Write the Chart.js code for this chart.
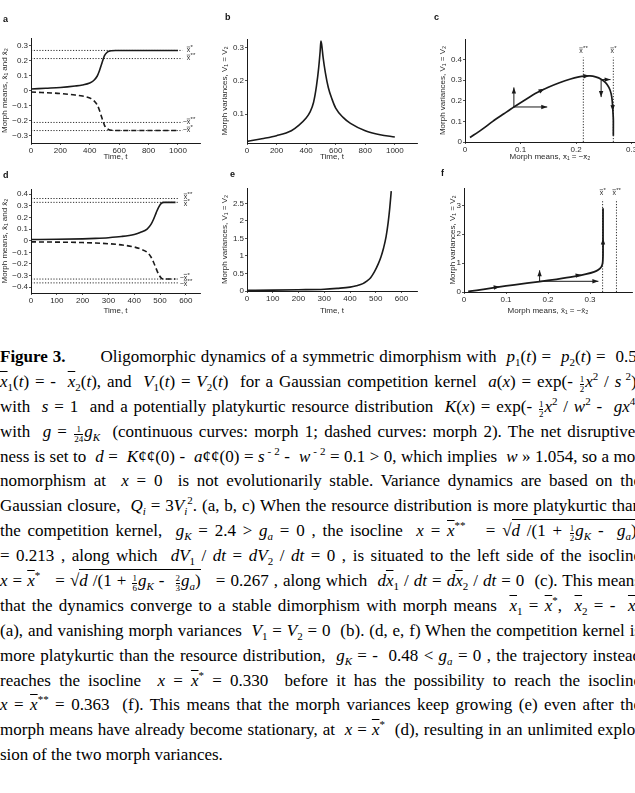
<!DOCTYPE html>
<html>
<head>
<meta charset="utf-8">
<script src="https://cdn.jsdelivr.net/npm/chart.js@4.4.0/dist/chart.umd.min.js"></script>
<style>
  body { margin: 0; background: #fff; width: 635px; height: 793px; overflow: hidden; position: relative; }
  canvas { position: absolute; }
  .lt { position: absolute; font: bold 9px "Liberation Sans", Arial, sans-serif; color: #111; }
  #cap { position: absolute; left: 0; top: 345px; width: 660px; font: 17px/24.9px "Liberation Serif", "Times New Roman", serif; color: #000; }
  #cap div { height: 24.9px; white-space: nowrap; }
  sub, sup { font-size: 11px; line-height: 0; }
  .ob { font-style: italic; text-decoration: overline; }
  .fr { display: inline-block; vertical-align: -5px; font-size: 9px; line-height: 9px; text-align: center; margin: 0 1px; }
  .fr span { display: block; }
  .fr span:first-child { border-bottom: 1px solid #000; }
  .rt { border-top: 1px solid #000; padding-top: 1px; }
</style>
</head>
<body>

<canvas id="chartA" width="215" height="165" style="left:0;top:0"></canvas>
<canvas id="chartB" width="215" height="165" style="left:210px;top:0"></canvas>
<canvas id="chartC" width="230" height="165" style="left:420px;top:0"></canvas>
<canvas id="chartD" width="215" height="165" style="left:0;top:160px"></canvas>
<canvas id="chartE" width="215" height="165" style="left:210px;top:160px"></canvas>
<canvas id="chartF" width="230" height="165" style="left:420px;top:160px"></canvas>

<div class="lt" style="left:3px;top:14px">a</div>
<div class="lt" style="left:225px;top:12px">b</div>
<div class="lt" style="left:434px;top:12px">c</div>
<div class="lt" style="left:3px;top:170px">d</div>
<div class="lt" style="left:230px;top:169px">e</div>
<div class="lt" style="left:441px;top:168px">f</div>

<div id="cap">
<div><b>Figure 3.</b><span style="display:inline-block;width:30px"></span> Oligomorphic dynamics of a symmetric dimorphism with &nbsp;<i>p</i><sub>1</sub>(<i>t</i>) = &nbsp;<i>p</i><sub>2</sub>(<i>t</i>) = &nbsp;0.5,</div>
<div><span class="ob">x</span><sub>1</sub>(<i>t</i>) = - &nbsp;<span class="ob">x</span><sub>2</sub>(<i>t</i>), and &nbsp;<i>V</i><sub>1</sub>(<i>t</i>) = <i>V</i><sub>2</sub>(<i>t</i>) &nbsp;for a Gaussian competition kernel &nbsp;<i>a</i>(<i>x</i>) = exp(- <span class="fr"><span>1</span><span>2</span></span><i>x</i><sup>2</sup> / <i>s</i><sup>&nbsp;2</sup>),</div>
<div>with &nbsp;<i>s</i> = 1 &nbsp;and a potentially platykurtic resource distribution &nbsp;<i>K</i>(<i>x</i>) = exp(- <span class="fr"><span>1</span><span>2</span></span><i>x</i><sup>2</sup> / <i>w</i><sup>2</sup> - &nbsp;<i>gx</i><sup>4</sup>)</div>
<div>with &nbsp;<i>g</i> = <span class="fr"><span>1</span><span>24</span></span><i>g</i><sub><i>K</i></sub> &nbsp;(continuous curves: morph 1; dashed curves: morph 2). The net disruptive-</div>
<div>ness is set to &nbsp;<i>d</i> = &nbsp;<i>K</i>¢¢(0) - &nbsp;<i>a</i>¢¢(0) = <i>s</i><sup>&nbsp;- 2</sup> - &nbsp;<i>w</i><sup>&nbsp;- 2</sup> = 0.1 &gt; 0, which implies &nbsp;<i>w</i> » 1.054, so a mo-</div>
<div>nomorphism at &nbsp;<i>x</i> = 0 &nbsp;is not evolutionarily stable. Variance dynamics are based on the</div>
<div>Gaussian closure, &nbsp;<i>Q<sub>i</sub></i> = 3<i>V<sub>i</sub></i><sup>2</sup>. (a, b, c) When the resource distribution is more platykurtic than</div>
<div>the competition kernel, &nbsp;<i>g<sub>K</sub></i> = 2.4 &gt; <i>g<sub>a</sub></i> = 0 , the isocline &nbsp;<i>x</i> = <span class="ob">x</span><sup>**</sup> &nbsp; = √<span class="rt"><i>d</i> /(1 + <span class="fr"><span>1</span><span>2</span></span><i>g<sub>K</sub></i> - &nbsp;<i>g<sub>a</sub></i>)</span>,</div>
<div>= 0.213 , along which &nbsp;<i>dV</i><sub>1</sub> / <i>dt</i> = <i>dV</i><sub>2</sub> / <i>dt</i> = 0 , is situated to the left side of the isocline</div>
<div><i>x</i> = <span class="ob">x</span><sup>*</sup> &nbsp; = √<span class="rt"><i>d</i> /(1 + <span class="fr"><span>1</span><span>6</span></span><i>g<sub>K</sub></i> - &nbsp;<span class="fr"><span>2</span><span>3</span></span><i>g<sub>a</sub></i>)</span> &nbsp; = 0.267 , along which &nbsp;<i>d</i><span class="ob">x</span><sub>1</sub> / <i>dt</i> = <i>d</i><span class="ob">x</span><sub>2</sub> / <i>dt</i> = 0 &nbsp;(c). This means</div>
<div>that the dynamics converge to a stable dimorphism with morph means &nbsp;<span class="ob">x</span><sub>1</sub> = <span class="ob">x</span><sup>*</sup>, &nbsp;<span class="ob">x</span><sub>2</sub> = - &nbsp;<span class="ob">x</span><sup>*</sup></div>
<div>(a), and vanishing morph variances &nbsp;<i>V</i><sub>1</sub> = <i>V</i><sub>2</sub> = 0 &nbsp;(b). (d, e, f) When the competition kernel is</div>
<div>more platykurtic than the resource distribution, &nbsp;<i>g<sub>K</sub></i> = - &nbsp;0.48 &lt; <i>g<sub>a</sub></i> = 0 , the trajectory instead</div>
<div>reaches the isocline &nbsp;<i>x</i> = <span class="ob">x</span><sup>*</sup> = 0.330 &nbsp;before it has the possibility to reach the isocline</div>
<div><i>x</i> = <span class="ob">x</span><sup>**</sup> = 0.363 &nbsp;(f). This means that the morph variances keep growing (e) even after the</div>
<div>morph means have already become stationary, at &nbsp;<i>x</i> = <span class="ob">x</span><sup>*</sup> &nbsp;(d), resulting in an unlimited explo-</div>
<div class="last">sion of the two morph variances.</div>
</div>

<script>
// Dados

// (a) médias dos morfos, gK = 2.4
const aTime = [0, 100, 200, 300, 350, 400, 425, 450, 465, 480, 490, 500, 515, 530, 550, 575, 600, 700, 800, 900, 1000];
const aMorph1 = [0.01, 0.015, 0.02, 0.03, 0.037, 0.05, 0.065, 0.095, 0.13, 0.175, 0.205, 0.232, 0.252, 0.261, 0.265, 0.267, 0.267, 0.267, 0.267, 0.267, 0.267];
const aMorph2 = [-0.01, -0.015, -0.02, -0.03, -0.037, -0.05, -0.065, -0.095, -0.13, -0.175, -0.205, -0.232, -0.252, -0.261, -0.265, -0.267, -0.267, -0.267, -0.267, -0.267, -0.267];
const aIso = [0.267, 0.213]; // x* e x**

// (b) variâncias
const bTime = [0, 100, 200, 300, 350, 400, 425, 450, 470, 485, 495, 500, 505, 515, 530, 550, 575, 600, 650, 700, 800, 900, 1000];
const bVar = [0.018, 0.026, 0.035, 0.05, 0.066, 0.088, 0.105, 0.135, 0.185, 0.24, 0.29, 0.32, 0.31, 0.27, 0.225, 0.18, 0.145, 0.118, 0.09, 0.072, 0.05, 0.038, 0.031];

// (c) trajetória no plano média x variância
const cMean = [0.009, 0.03, 0.05, 0.07, 0.088, 0.11, 0.13, 0.15, 0.17, 0.19, 0.205, 0.215, 0.225, 0.235, 0.245, 0.253, 0.259, 0.263, 0.265, 0.266, 0.267, 0.267, 0.267];
const cVar = [0.022, 0.06, 0.1, 0.137, 0.17, 0.208, 0.24, 0.266, 0.288, 0.306, 0.316, 0.32, 0.321, 0.316, 0.305, 0.288, 0.265, 0.235, 0.2, 0.16, 0.11, 0.06, 0.03];

// (d) médias dos morfos, gK = -0.48
const dTime = [0, 100, 200, 250, 300, 350, 400, 425, 450, 465, 475, 485, 495, 505, 515, 530, 560];
const dMorph1 = [0.01, 0.012, 0.016, 0.02, 0.026, 0.036, 0.054, 0.072, 0.1, 0.14, 0.185, 0.24, 0.29, 0.322, 0.33, 0.33, 0.33];
const dMorph2 = [-0.01, -0.012, -0.016, -0.02, -0.026, -0.036, -0.054, -0.072, -0.1, -0.14, -0.185, -0.24, -0.29, -0.322, -0.33, -0.33, -0.33];
const dIso = [0.363, 0.33]; // x** e x*

// (e) variâncias
const eTime = [0, 100, 200, 300, 350, 400, 425, 450, 465, 480, 495, 510, 520, 530, 540, 548, 554, 560];
const eVar = [0.02, 0.025, 0.035, 0.05, 0.075, 0.11, 0.15, 0.21, 0.28, 0.38, 0.55, 0.78, 0.97, 1.22, 1.55, 1.95, 2.35, 2.85];

// (f) trajetória
const fMean = [0.01, 0.05, 0.08, 0.12, 0.18, 0.22, 0.26, 0.29, 0.31, 0.32, 0.327, 0.33, 0.331, 0.331, 0.331];
const fVar = [0.02, 0.1, 0.17, 0.25, 0.36, 0.44, 0.53, 0.62, 0.7, 0.77, 0.87, 1.0, 1.3, 2.0, 2.9];

// Ticks
const timeTicks1000 = [0, 200, 400, 600, 800, 1000];
const timeTicks600 = [0, 100, 200, 300, 400, 500, 600];
const meanTicksA = [-0.3, -0.2, -0.1, 0, 0.1, 0.2, 0.3];
const meanTicksD = [-0.4, -0.3, -0.2, -0.1, 0, 0.1, 0.2, 0.3, 0.4];
const varTicksB = [0.1, 0.2, 0.3];
const varTicksC = [0, 0.1, 0.2, 0.3, 0.4];
const varTicksE = [0, 0.5, 1, 1.5, 2, 2.5];
const varTicksF = [0, 1, 2, 3];
const meanTicksX = [0, 0.1, 0.2, 0.3];

const INK = "#1a1a1a";
const TXT = "#2a2a2a";
const FONT = { family: "'Liberation Sans', Arial, sans-serif", size: 8 };

// Legenda: ajusta o espaçamento das palavras para cada linha ocupar a largura toda
const CAP_WIDTH = 641;
document.querySelectorAll("#cap div").forEach(function (el) {
  if (el.className === "last") return;
  el.innerHTML = "<span>" + el.innerHTML + "</span>";
  var n = (el.textContent.match(/[ \u00a0]/g) || []).length;
  var w = el.firstChild.getBoundingClientRect().width;
  if (n > 0) el.style.wordSpacing = ((CAP_WIDTH - w) / n) + "px";
});

function pts(xs, ys) {
  return xs.map(function (v, i) { return { x: v, y: ys[i] }; });
}

// desenha x com barra, sinal e estrelas
function drawXbar(ctx, x, y, neg, stars, center) {
  ctx.font = "7px 'Liberation Sans', Arial, sans-serif";
  var xw = ctx.measureText("x").width;
  ctx.font = "6px 'Liberation Sans', Arial, sans-serif";
  var sw = ctx.measureText(stars).width;
  if (center) x = x - (xw + sw) / 2;
  ctx.font = "7px 'Liberation Sans', Arial, sans-serif";
  ctx.textBaseline = "middle";
  ctx.textAlign = "left";
  if (neg) {
    var mw = ctx.measureText("\u2212").width;
    ctx.fillText("\u2212", x - mw, y);
  }
  ctx.fillText("x", x, y);
  ctx.beginPath();
  ctx.moveTo(x, y - 3.5);
  ctx.lineTo(x + xw, y - 3.5);
  ctx.lineWidth = 0.6;
  ctx.stroke();
  ctx.font = "6px 'Liberation Sans', Arial, sans-serif";
  ctx.fillText(stars, x + xw + 0.3, y - 3);
}

const marksPlugin = {
  id: "marks",
  afterDatasetsDraw(chart, args, opts) {
    var ctx = chart.ctx, xs = chart.scales.x, ys = chart.scales.y;
    ctx.save();
    ctx.fillStyle = INK;
    ctx.strokeStyle = INK;
    (opts.arrows || []).forEach(function (a) {
      var x0 = xs.getPixelForValue(a[0]), y0 = ys.getPixelForValue(a[1]);
      var x1 = xs.getPixelForValue(a[2]), y1 = ys.getPixelForValue(a[3]);
      if (a[4]) {
        ctx.beginPath();
        ctx.moveTo(x0, y0);
        ctx.lineTo(x1, y1);
        ctx.lineWidth = 1;
        ctx.stroke();
      }
      var ang = Math.atan2(y1 - y0, x1 - x0);
      ctx.beginPath();
      ctx.moveTo(x1, y1);
      ctx.lineTo(x1 - 6 * Math.cos(ang) + 2.2 * Math.sin(ang), y1 - 6 * Math.sin(ang) - 2.2 * Math.cos(ang));
      ctx.lineTo(x1 - 6 * Math.cos(ang) - 2.2 * Math.sin(ang), y1 - 6 * Math.sin(ang) + 2.2 * Math.cos(ang));
      ctx.closePath();
      ctx.fill();
    });
    ctx.fillStyle = TXT;
    ctx.strokeStyle = TXT;
    (opts.labels || []).forEach(function (l) {
      drawXbar(ctx, xs.getPixelForValue(l.x), ys.getPixelForValue(l.y), l.neg, l.stars, l.center);
    });
    ctx.restore();
  },
};
Chart.register(marksPlugin);

function axis(g, horizontal, min, max, ticks, title, titlePad, fmt) {
  return {
    type: "linear",
    min: min,
    max: max,
    afterBuildTicks: function (s) {
      s.ticks = ticks.map(function (v) { return { value: v }; });
    },
    afterFit: function (s) {
      if (horizontal) s.height = g.h - g.bottom;
      else s.width = g.left;
    },
    grid: { display: true, drawOnChartArea: false, tickLength: 2, color: TXT, lineWidth: 0.8 },
    border: { display: true, color: INK, width: 1 },
    ticks: {
      font: FONT,
      color: TXT,
      padding: 1,
      maxRotation: 0,
      autoSkip: false,
      callback: fmt || function (v) { return String(v).replace("-", "\u2212"); },
    },
    title: {
      display: true,
      text: title,
      font: FONT,
      color: TXT,
      padding: horizontal ? { top: 0, bottom: titlePad } : { top: titlePad, bottom: 0 },
    },
  };
}

function line(data, opts) {
  return Object.assign({
    data: data,
    borderColor: INK,
    borderWidth: 1.6,
    pointRadius: 0,
    fill: false,
    cubicInterpolationMode: "monotone",
  }, opts || {});
}

function dotted(data) {
  return { data: data, borderColor: INK, borderWidth: 0.9, borderDash: [1.2, 1.6], pointRadius: 0, fill: false, tension: 0 };
}

function makeChart(id, g, xAxis, yAxis, datasets, marks) {
  new Chart(document.getElementById(id), {
    type: "line",
    data: { datasets: datasets },
    options: {
      responsive: false,
      animation: false,
      layout: { padding: { left: 0, right: g.w - g.right, top: g.top, bottom: 0 } },
      plugins: { legend: { display: false }, tooltip: { enabled: false }, marks: marks || {} },
      scales: { x: xAxis, y: yAxis },
    },
  });
}

// Gráfico a
var gA = { w: 215, h: 165, left: 31, right: 200, top: 38, bottom: 143 };
makeChart("chartA", gA,
  axis(gA, true, 0, 1150, timeTicks1000, "Time, t", 3),
  axis(gA, false, -0.35, 0.35, meanTicksA, "Morph means, x\u0304\u2081 and x\u0304\u2082", 0),
  [
    line(pts(aTime, aMorph1)),
    line(pts(aTime, aMorph2), { borderDash: [5, 3] }),
    dotted([{ x: 0, y: aIso[0] }, { x: 1030, y: aIso[0] }]),
    dotted([{ x: 0, y: aIso[1] }, { x: 1030, y: aIso[1] }]),
    dotted([{ x: 0, y: -aIso[0] }, { x: 1030, y: -aIso[0] }]),
    dotted([{ x: 0, y: -aIso[1] }, { x: 1030, y: -aIso[1] }]),
  ],
  {
    labels: [
      { x: 1060, y: aIso[0], neg: false, stars: "*" },
      { x: 1060, y: aIso[1], neg: false, stars: "**" },
      { x: 1060, y: -aIso[1], neg: true, stars: "**" },
      { x: 1060, y: -aIso[0], neg: true, stars: "*" },
    ],
  });

// Gráfico b
var gB = { w: 215, h: 165, left: 37, right: 207, top: 39, bottom: 143 };
makeChart("chartB", gB,
  axis(gB, true, 0, 1150, timeTicks1000, "Time, t", 3),
  axis(gB, false, 0.013, 0.326, varTicksB, "Morph variances, V\u2081 = V\u2082", 10),
  [line(pts(bTime, bVar))]);

// Gráfico c
var gC = { w: 230, h: 165, left: 45, right: 215, top: 39, bottom: 142 };
makeChart("chartC", gC,
  axis(gC, true, 0, 0.306, meanTicksX, "Morph means, x\u0304\u2081 = \u2212x\u0304\u2082", 3),
  axis(gC, false, 0, 0.5, varTicksC, "Morph variances, V\u2081 = V\u2082", 18),
  [
    line(pts(cMean, cVar), { cubicInterpolationMode: "default", tension: 0.3, borderWidth: 1.7 }),
    dotted([{ x: aIso[1], y: 0 }, { x: aIso[1], y: 0.41 }]),
    dotted([{ x: aIso[0], y: 0 }, { x: aIso[0], y: 0.41 }]),
  ],
  {
    arrows: [
      [0.088, 0.17, 0.088, 0.265, true],
      [0.088, 0.17, 0.148, 0.17, true],
      [0.245, 0.303, 0.245, 0.218, true],
      [0.245, 0.303, 0.262, 0.303, true],
      [0.125, 0.233, 0.143, 0.259, false],
      [0.205, 0.317, 0.224, 0.322, false],
      [0.2655, 0.2, 0.266, 0.15, false],
    ],
    labels: [
      { x: aIso[1], y: 0.44, neg: false, stars: "**", center: true },
      { x: aIso[0], y: 0.44, neg: false, stars: "*", center: true },
    ],
  });

// Gráfico d
var gD = { w: 215, h: 165, left: 31, right: 200, top: 29, bottom: 133 };
makeChart("chartD", gD,
  axis(gD, true, 0, 655, timeTicks600, "Time, t", 9.5),
  axis(gD, false, -0.45, 0.445, meanTicksD, "Morph means, x\u0304\u2081 and x\u0304\u2082", 0),
  [
    line(pts(dTime, dMorph1)),
    line(pts(dTime, dMorph2), { borderDash: [5, 3] }),
    dotted([{ x: 0, y: dIso[0] }, { x: 575, y: dIso[0] }]),
    dotted([{ x: 0, y: dIso[1] }, { x: 575, y: dIso[1] }]),
    dotted([{ x: 0, y: -dIso[0] }, { x: 575, y: -dIso[0] }]),
    dotted([{ x: 0, y: -dIso[1] }, { x: 575, y: -dIso[1] }]),
  ],
  {
    labels: [
      { x: 592, y: dIso[0] + 0.01, neg: false, stars: "**" },
      { x: 592, y: dIso[1] - 0.015, neg: false, stars: "*" },
      { x: 592, y: -dIso[1] + 0.01, neg: true, stars: "*" },
      { x: 592, y: -dIso[0] - 0.012, neg: true, stars: "**" },
    ],
  });

// Gráfico e
var gE = { w: 215, h: 165, left: 37, right: 207, top: 28, bottom: 131 };
makeChart("chartE", gE,
  axis(gE, true, 0, 660, timeTicks600, "Time, t", 9.5),
  axis(gE, false, 0, 2.94, varTicksE, "Morph variances, V\u2081 = V\u2082", 10),
  [line(pts(eTime, eVar))]);

// Gráfico f
var gF = { w: 230, h: 165, left: 44, right: 212, top: 28, bottom: 132 };
makeChart("chartF", gF,
  axis(gF, true, 0, 0.4, meanTicksX, "Morph means, x\u0304\u2081 = \u2212x\u0304\u2082", 9.5),
  axis(gF, false, 0, 3.6, varTicksF, "Morph variances, V\u2081 = V\u2082", 28),
  [
    line(pts(fMean, fVar), { cubicInterpolationMode: "default", tension: 0.2, borderWidth: 1.8 }),
    dotted([{ x: dIso[1], y: 0 }, { x: dIso[1], y: 3.2 }]),
    dotted([{ x: dIso[0], y: 0 }, { x: dIso[0], y: 3.2 }]),
  ],
  {
    arrows: [
      [0.18, 0.37, 0.18, 0.75, true],
      [0.18, 0.37, 0.32, 0.37, true],
      [0.06, 0.135, 0.085, 0.185, false],
      [0.26, 0.55, 0.28, 0.6, false],
      [0.331, 1.5, 0.331, 1.85, false],
    ],
    labels: [
      { x: dIso[1], y: 3.42, neg: false, stars: "*", center: true },
      { x: dIso[0], y: 3.42, neg: false, stars: "**", center: true },
    ],
  });
</script>
</body>
</html>
